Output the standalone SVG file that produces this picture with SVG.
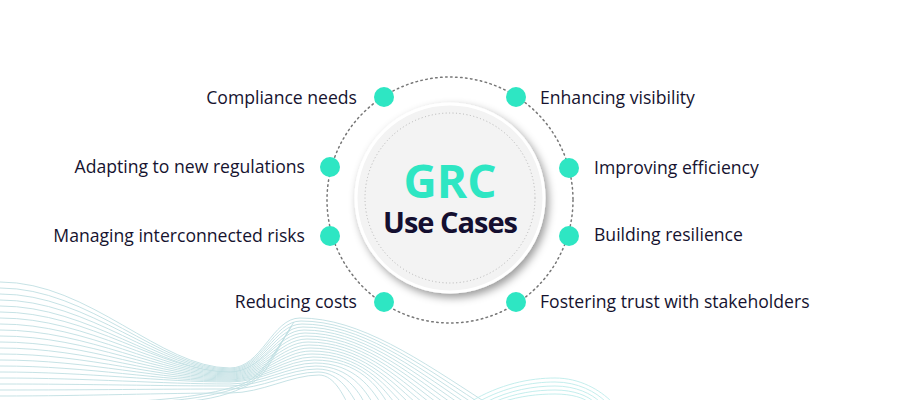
<svg xmlns="http://www.w3.org/2000/svg" width="899" height="400" viewBox="0 0 899 400">
<defs>
<style>
.lbl{font-family:"Open Sans","Liberation Sans",sans-serif;font-size:17.6px;fill:#16132f}
.dot{fill:#2ee6c3}
.w{fill:none;stroke:#bfdfe2;stroke-width:0.9}
.w2{fill:none;stroke:#bdeceb;stroke-width:0.9}
</style>
<filter id="sh" x="-20%" y="-20%" width="150%" height="150%">
<feDropShadow dx="3" dy="4" stdDeviation="4" flood-color="#000" flood-opacity="0.4"/>
</filter>
</defs>
<rect width="899" height="400" fill="#ffffff"/>
<g id="waves">
<path class="w" d="M0 282 C90 282 160 368 230 368 C262 368 272 318 300 318 C360 318 420 360 485 402"/>
<path class="w" d="M0 288 C90 288 160 369 230 369 C262 369 273 321 301 321 C360 321 417 362 478 402"/>
<path class="w" d="M0 294 C90 294 160 370 230 370 C262 370 274 324 302 324 C360 324 414 364 471 402"/>
<path class="w" d="M0 300 C90 300 160 371 230 371 C262 371 275 327 303 327 C360 327 411 366 464 402"/>
<path class="w" d="M0 306 C90 306 160 372 230 372 C262 372 276 330 304 330 C360 330 408 368 457 402"/>
<path class="w" d="M0 312 C90 312 160 372 230 372 C262 372 277 333 305 333 C360 333 405 370 450 402"/>
<path class="w" d="M0 318 C90 318 160 373 230 373 C262 373 278 336 306 336 C360 336 402 372 443 402"/>
<path class="w" d="M0 324 C90 324 160 374 230 374 C262 374 279 339 307 339 C360 339 399 374 436 402"/>
<path class="w" d="M0 330 C90 330 160 375 230 375 C262 375 280 342 308 342 C360 342 396 376 429 402"/>
<path class="w" d="M0 336 C90 336 160 376 230 376 C262 376 281 345 309 345 C360 345 393 378 422 402"/>
<path class="w" d="M0 342 C90 342 160 377 230 377 C262 377 282 348 310 348 C360 348 390 380 415 402"/>
<path class="w" d="M0 348 C90 348 160 378 230 378 C262 378 283 351 311 351 C360 351 387 382 408 402"/>
<path class="w" d="M0 354 C90 354 160 379 230 379 C262 379 284 354 312 354 C360 354 384 384 401 402"/>
<path class="w" d="M0 360 C90 360 160 380 230 380 C262 380 285 357 313 357 C360 357 381 386 394 402"/>
<path class="w" d="M0 366 C90 366 160 381 230 381 C262 381 286 360 314 360 C360 360 378 388 387 402"/>
<path class="w" d="M0 372 C90 372 160 382 230 382 C262 382 287 363 315 363 C355 363 372 390 380 402"/>
<path class="w" d="M0 378 C90 378 160 384 230 384 C262 384 288 366 316 366 C350 366 366 392 372 402"/>
<path class="w" d="M0 384 C90 384 160 386 230 386 C262 386 289 369 317 369 C345 369 360 394 364 402"/>
<path class="w" d="M0 390 C90 390 160 389 230 389 C262 389 290 372 318 372 C340 372 352 396 356 402"/>
<path class="w" d="M0 396 C90 396 160 393 230 393 C262 393 291 375 319 375 C335 375 344 398 347 402"/>
<path class="w" d="M120 402 C170 400 210 395 240 385 C262 378 275 350 290 330"/>
<path class="w" d="M150 402 C190 400 220 395 245 385 C265 377 278 345 292 326"/>
<path class="w" d="M180 402 C210 400 232 394 250 384 C268 376 280 342 294 322"/>
<path class="w2" d="M470 402 C500 384 530 378 555 378 C580 378 600 390 612 402"/>
<path class="w2" d="M478 402 C505 387 532 382 555 382 C578 382 596 392 606 402"/>
<path class="w2" d="M486 402 C510 390 534 386 555 386 C576 386 592 394 600 402"/>
<path class="w2" d="M494 402 C515 393 536 390 555 390 C574 390 588 396 594 402"/>
<path class="w2" d="M502 402 C520 396 538 394 555 394 C572 394 584 398 588 402"/>
</g>
<g id="connectors">
<circle cx="450" cy="200" r="123" fill="none" stroke="#777" stroke-width="1.5" stroke-dasharray="1.5 3.5" stroke-linecap="round"/>
</g>
<g id="center">
<circle cx="450" cy="198" r="94" fill="#f3f3f3" stroke="#ffffff" stroke-width="3" filter="url(#sh)"/>
<circle cx="450" cy="198" r="85" fill="none" stroke="#b5b5b5" stroke-width="1" stroke-dasharray="1 2.5"/>
<text x="450" y="198" text-anchor="middle" font-family="'Open Sans','Liberation Sans',sans-serif" font-weight="700" font-size="46" fill="#2ee6c3">GRC</text>
<text x="450" y="233" text-anchor="middle" font-family="'Open Sans','Liberation Sans',sans-serif" font-weight="700" font-size="29" fill="#140f30" letter-spacing="-1">Use Cases</text>
</g>
<g id="n1"><circle class="dot" cx="384" cy="97" r="10"/><text class="lbl" x="357" y="104" text-anchor="end">Compliance needs</text></g>
<g id="n2"><circle class="dot" cx="330" cy="167" r="10"/><text class="lbl" x="305" y="173" text-anchor="end">Adapting to new regulations</text></g>
<g id="n3"><circle class="dot" cx="330" cy="236" r="10"/><text class="lbl" x="305" y="242" text-anchor="end">Managing interconnected risks</text></g>
<g id="n4"><circle class="dot" cx="384" cy="302" r="10"/><text class="lbl" x="357" y="308" text-anchor="end">Reducing costs</text></g>
<g id="n5"><circle class="dot" cx="516" cy="97" r="10"/><text class="lbl" x="540" y="104">Enhancing visibility</text></g>
<g id="n6"><circle class="dot" cx="569" cy="168" r="10"/><text class="lbl" x="594" y="174">Improving efficiency</text></g>
<g id="n7"><circle class="dot" cx="569" cy="236" r="10"/><text class="lbl" x="594" y="241">Building resilience</text></g>
<g id="n8"><circle class="dot" cx="516" cy="302" r="10"/><text class="lbl" x="540" y="308">Fostering trust with stakeholders</text></g>
</svg>
